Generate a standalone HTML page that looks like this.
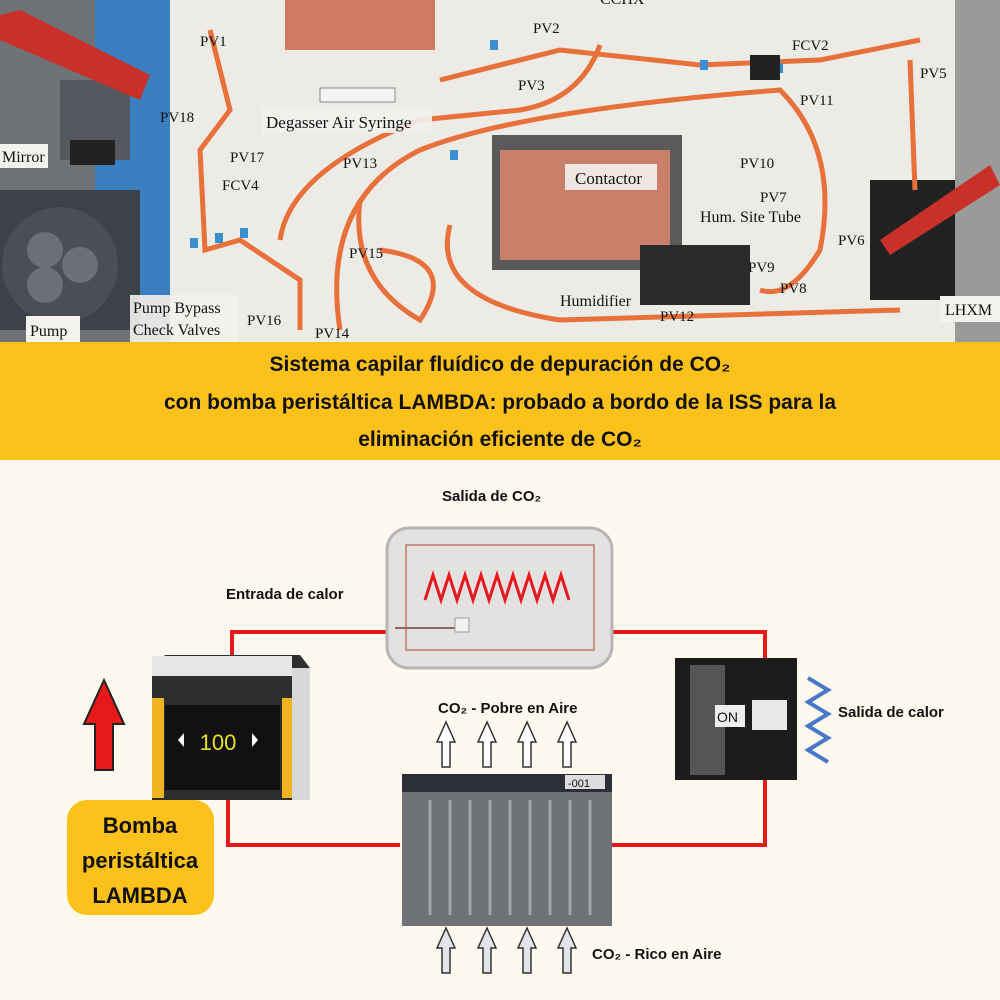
<!DOCTYPE html>
<html><head><meta charset="utf-8"><style>
html,body{margin:0;padding:0;width:1000px;height:1000px;overflow:hidden;background:#fdf9ee;}
svg{display:block}
.ser{font-family:"Liberation Serif",serif;font-size:15px;fill:#111}
.b{font-family:"Liberation Sans",sans-serif;font-weight:bold;fill:#111}
</style></head><body>
<svg width="1000" height="1000" viewBox="0 0 1000 1000" xmlns="http://www.w3.org/2000/svg">
<!-- TOP PHOTO -->
<rect x="0" y="0" width="1000" height="343" fill="#ecebe6"/>
<rect x="0" y="0" width="170" height="343" fill="#6f7378"/>
<rect x="95" y="0" width="75" height="300" fill="#3a7fbf"/>
<rect x="0" y="190" width="140" height="140" fill="#3d4148"/>
<circle cx="60" cy="265" r="58" fill="#4a4e58"/>
<circle cx="45" cy="250" r="18" fill="#6a6f7a"/><circle cx="80" cy="265" r="18" fill="#6a6f7a"/><circle cx="45" cy="285" r="18" fill="#6a6f7a"/>
<rect x="60" y="80" width="70" height="80" fill="#55585e"/>
<rect x="70" y="140" width="45" height="25" fill="#222"/>
<polygon points="0,15 20,10 150,75 140,100 0,40" fill="#c9302a"/>
<rect x="955" y="0" width="45" height="343" fill="#9a9a98"/>
<rect x="870" y="180" width="85" height="120" fill="#222"/>
<polygon points="880,240 990,165 1000,185 890,255" fill="#c9302a"/>
<rect x="285" y="0" width="150" height="50" fill="#d07a62"/>
<rect x="492" y="135" width="190" height="135" fill="#5a5a5a"/>
<rect x="500" y="150" width="170" height="110" fill="#c97f6a"/>
<rect x="640" y="245" width="110" height="60" fill="#2a2a2a"/>
<g fill="none" stroke="#e8703a" stroke-width="5">
<path d="M210 30 L230 110 L200 150 L205 250 L240 240 L300 280 L300 330"/>
<path d="M440 80 L560 50 L700 65 L820 60 L920 40"/>
<path d="M450 225 Q430 300 560 320 L900 310"/>
<path d="M340 330 Q320 200 420 150 Q520 110 780 90 Q840 150 820 250 Q790 300 760 290"/>
<path d="M600 45 Q580 100 520 110 L420 120 Q290 170 280 240"/>
<path d="M910 60 L915 190"/>
<path d="M360 200 Q350 280 420 320 Q460 260 380 250"/>
</g>
<g fill="#3a8fd0"><rect x="190" y="238" width="8" height="10"/><rect x="215" y="233" width="8" height="10"/><rect x="240" y="228" width="8" height="10"/><rect x="450" y="150" width="8" height="10"/><rect x="490" y="40" width="8" height="10"/><rect x="700" y="60" width="8" height="10"/><rect x="775" y="63" width="8" height="10"/></g>
<rect x="750" y="55" width="30" height="25" fill="#222"/>
<rect x="320" y="88" width="75" height="14" fill="#f4f4f4" stroke="#888"/>
<g class="ser">
<rect x="565" y="164" width="92" height="26" fill="#f4f2ee" opacity=".9"/>
<text x="575" y="184" font-size="17">Contactor</text>
<rect x="262" y="108" width="170" height="25" fill="#f4f2ee" opacity=".9"/>
<text x="266" y="128" font-size="17">Degasser Air Syringe</text>
<text x="200" y="46">PV1</text><text x="533" y="33">PV2</text><text x="518" y="90">PV3</text>
<text x="792" y="50">FCV2</text><text x="920" y="78">PV5</text><text x="800" y="105">PV11</text>
<text x="160" y="122">PV18</text><text x="230" y="162">PV17</text><text x="222" y="190">FCV4</text>
<text x="343" y="168">PV13</text><text x="740" y="168">PV10</text><text x="760" y="202">PV7</text>
<text x="700" y="222" font-size="16">Hum. Site Tube</text>
<text x="349" y="258">PV15</text><text x="838" y="245">PV6</text><text x="748" y="272">PV9</text>
<text x="780" y="293">PV8</text><text x="560" y="306" font-size="16">Humidifier</text>
<text x="660" y="321">PV12</text><text x="247" y="325">PV16</text><text x="315" y="338">PV14</text>
<rect x="0" y="144" width="48" height="24" fill="#f4f2ee"/><text x="2" y="162" font-size="16">Mirror</text>
<rect x="26" y="316" width="54" height="27" fill="#f4f2ee"/><text x="30" y="336" font-size="16">Pump</text>
<rect x="130" y="295" width="108" height="48" fill="#f4f2ee" opacity=".9"/>
<text x="133" y="313" font-size="16">Pump Bypass</text><text x="133" y="335" font-size="16">Check Valves</text>
<rect x="940" y="296" width="60" height="26" fill="#f4f2ee"/><text x="945" y="315" font-size="16">LHXM</text>
<text x="600" y="4" font-size="16">CCHX</text>
</g>
<!-- BAND -->
<rect x="0" y="342" width="1000" height="118" fill="#fcc11a"/>
<g class="b" font-size="21" text-anchor="middle" fill="#1a1a1a">
<text x="500" y="371">Sistema capilar fluídico de depuración de CO₂</text>
<text x="500" y="409">con bomba peristáltica LAMBDA: probado a bordo de la ISS para la</text>
<text x="500" y="446">eliminación eficiente de CO₂</text>
</g>
<!-- BOTTOM DIAGRAM -->
<g fill="none" stroke="#e8191a" stroke-width="4">
<polyline points="232,660 232,632 390,632"/>
<polyline points="610,632 765,632 765,660"/>
<polyline points="228,800 228,845 400,845"/>
<polyline points="612,845 765,845 765,755"/>
</g>
<!-- top contactor -->
<rect x="387" y="528" width="225" height="140" rx="22" fill="#e4e2e0" stroke="#b8b6b4" stroke-width="3"/>
<rect x="406" y="545" width="188" height="105" fill="none" stroke="#c9908a" stroke-width="2"/>
<polyline points="425,600 433,575 441,600 449,575 457,600 465,575 473,600 481,575 489,600 497,575 505,600 513,575 521,600 529,575 537,600 545,575 553,600 561,575 569,600" fill="none" stroke="#e8191a" stroke-width="3"/>
<line x1="395" y1="628" x2="460" y2="628" stroke="#8a6a60" stroke-width="2"/>
<rect x="455" y="618" width="14" height="14" fill="#f2f2f2" stroke="#999"/>
<!-- pump -->
<polygon points="152,668 165,655 300,655 310,668 310,800 152,800" fill="#2e2e2e"/>
<rect x="152" y="656" width="140" height="20" fill="#e6e6e6"/>
<rect x="152" y="698" width="12" height="100" fill="#f0b420"/>
<rect x="282" y="698" width="12" height="100" fill="#f0b420"/>
<rect x="165" y="705" width="115" height="85" fill="#111"/>
<text x="218" y="750" font-family="Liberation Sans" font-size="22" fill="#e8e020" text-anchor="middle">100</text>
<polygon points="178,740 184,733 184,747" fill="#fff"/><polygon points="258,740 252,733 252,747" fill="#fff"/>
<rect x="292" y="668" width="18" height="132" fill="#d8d8d8"/>
<!-- red arrow -->
<polygon points="104,680 124,724 113,724 113,770 95,770 95,724 84,724" fill="#e8191a" stroke="#222" stroke-width="2"/>
<!-- yellow box -->
<rect x="67" y="800" width="147" height="115" rx="20" fill="#fcc11a"/>
<g class="b" font-size="22" text-anchor="middle"><text x="140" y="833">Bomba</text><text x="140" y="868">peristáltica</text><text x="140" y="903">LAMBDA</text></g>
<!-- radiator -->
<rect x="675" y="658" width="122" height="122" fill="#1c1c1c"/>
<rect x="690" y="665" width="35" height="110" fill="#555"/>
<rect x="715" y="705" width="30" height="22" fill="#eee"/><text x="717" y="722" font-family="Liberation Sans" font-size="14" fill="#111">ON</text>
<rect x="752" y="700" width="35" height="30" fill="#e8e8e8"/>
<polyline points="808,678 828,690 808,702 828,714 808,726 828,738 808,750 828,762" fill="none" stroke="#4a78c8" stroke-width="4"/>
<!-- bottom contactor -->
<rect x="402" y="774" width="210" height="152" fill="#6f7378"/>
<rect x="402" y="774" width="210" height="18" fill="#2c2f35"/>
<g stroke="#a2a6ab" stroke-width="3"><line x1="430" y1="800" x2="430" y2="915"/><line x1="450" y1="800" x2="450" y2="915"/><line x1="470" y1="800" x2="470" y2="915"/><line x1="490" y1="800" x2="490" y2="915"/><line x1="510" y1="800" x2="510" y2="915"/><line x1="530" y1="800" x2="530" y2="915"/><line x1="550" y1="800" x2="550" y2="915"/><line x1="570" y1="800" x2="570" y2="915"/><line x1="590" y1="800" x2="590" y2="915"/></g>
<rect x="565" y="775" width="40" height="14" fill="#ddd"/><text x="568" y="787" font-family="Liberation Sans" font-size="11" fill="#111">-001</text>
<!-- outline arrows -->
<g fill="#fff" stroke="#333" stroke-width="1.5">
<path id="ar" d="M0,0 L9,20 L4,20 L4,45 L-4,45 L-4,20 L-9,20 Z" transform="translate(446,722)"/>
<path d="M0,0 L9,20 L4,20 L4,45 L-4,45 L-4,20 L-9,20 Z" transform="translate(487,722)"/>
<path d="M0,0 L9,20 L4,20 L4,45 L-4,45 L-4,20 L-9,20 Z" transform="translate(527,722)"/>
<path d="M0,0 L9,20 L4,20 L4,45 L-4,45 L-4,20 L-9,20 Z" transform="translate(567,722)"/>
</g>
<g fill="#e2e4ea" stroke="#333" stroke-width="1.5">
<path d="M0,0 L9,20 L4,20 L4,45 L-4,45 L-4,20 L-9,20 Z" transform="translate(446,928)"/>
<path d="M0,0 L9,20 L4,20 L4,45 L-4,45 L-4,20 L-9,20 Z" transform="translate(487,928)"/>
<path d="M0,0 L9,20 L4,20 L4,45 L-4,45 L-4,20 L-9,20 Z" transform="translate(527,928)"/>
<path d="M0,0 L9,20 L4,20 L4,45 L-4,45 L-4,20 L-9,20 Z" transform="translate(567,928)"/>
</g>
<g class="b" font-size="15">
<text x="442" y="501">Salida de CO₂</text>
<text x="226" y="599">Entrada de calor</text>
<text x="438" y="713">CO₂ - Pobre en Aire</text>
<text x="838" y="717">Salida de calor</text>
<text x="592" y="959">CO₂ - Rico en Aire</text>
</g>
</svg>
</body></html>
